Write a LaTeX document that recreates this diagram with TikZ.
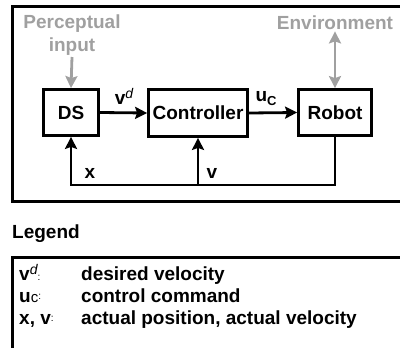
\documentclass[tikz,border=0pt]{standalone}
\usepackage{fontspec}
\setmainfont{Liberation Sans}
\usetikzlibrary{arrows.meta}
\definecolor{lightg}{RGB}{160,160,160}
\begin{document}
\begin{tikzpicture}[x=1pt,y=-1pt,
  blk/.style={draw, line width=2.8pt, inner sep=1pt, font=\fontsize{19}{22}\selectfont\bfseries},
  flow/.style={line width=2.8pt, -{Stealth[length=12pt,width=12pt,inset=2pt]}},
  gflow/.style={draw=lightg, line width=2.8pt, -{Stealth[length=12pt,width=12pt,inset=2pt]}},
  gtxt/.style={text=lightg, inner sep=1pt, align=center, font=\fontsize{19}{23}\selectfont\bfseries},
  lbl/.style={inner sep=0pt, font=\fontsize{19}{22}\selectfont\bfseries},
  frame/.style={draw, line width=2.8pt},
  legtxt/.style={anchor=base west, inner sep=0pt, font=\fontsize{19}{22}\selectfont\bfseries}]
\useasboundingbox (0,0) rectangle (400,348);
\clip (0,0) rectangle (400,348);
% outer frame
\draw[frame] (12.5,6.5) rectangle (420,201.5);
% blocks
\node[blk, minimum width=55pt, minimum height=46pt] (ds) at (71,112.5) {DS};
\node[blk, minimum width=99pt, minimum height=47pt] (ctrl) at (198,113) {Controller};
\node[blk, minimum width=73pt, minimum height=46pt] (robot) at (335,112.5) {Robot};
% gray inputs
\node[gtxt, anchor=south] (perc) at (72,57) {Perceptual\\input};
\node[gtxt, anchor=base] (env) at (335,30) {Environment};
\draw[gflow] (perc.south) -- (ds.north);
\draw[gflow, {Stealth[length=12pt,width=12pt,inset=2pt]}-{Stealth[length=12pt,width=12pt,inset=2pt]}] (env.south) -- (robot.north);
% forward arrows
\draw[flow] (ds.east) -- (ctrl.west);
\draw[flow] (ctrl.east) -- (robot.west);
% feedback
\coordinate (fb) at (0,185);
\draw[flow] (robot.south) |- (ds.south |- fb) -- (ds.south);
\draw[flow] (ctrl.south |- fb) -- (ctrl.south);
% labels
\node[lbl, anchor=base] (lvd) at (124,104) {v\raisebox{6pt}{\fontsize{14}{14}\selectfont\mdseries\itshape d}};
\node[lbl, anchor=base] (luc) at (266,102) {u\raisebox{-3pt}{\fontsize{13}{13}\selectfont C}};
\node[lbl, anchor=base] (lx) at (90,178) {x};
\node[lbl, anchor=base] (lv) at (212,178) {v};
% legend
\node[anchor=base west, inner sep=0pt, font=\fontsize{19}{22}\selectfont\bfseries] (leg) at (12,238) {Legend};
\draw[frame] (12.5,257.5) rectangle (420,360);
\node[legtxt] (k1) at (19,280) {v\raisebox{6pt}{\fontsize{14}{14}\selectfont\mdseries\itshape d}{\fontsize{10}{10}\selectfont\mdseries :}};
\node[legtxt] (d1) at (81,280) {desired velocity};
\node[legtxt] (k2) at (19,302) {u{\fontsize{15}{15}\selectfont\mdseries c}\raisebox{3pt}{\fontsize{10}{10}\selectfont\mdseries :}};
\node[legtxt] (d2) at (81,302) {control command};
\node[legtxt] (k3) at (19,324) {x, v\raisebox{3pt}{\fontsize{10}{10}\selectfont\mdseries :}};
\node[legtxt] (d3) at (81,324) {actual position, actual velocity};
\end{tikzpicture}
\end{document}
